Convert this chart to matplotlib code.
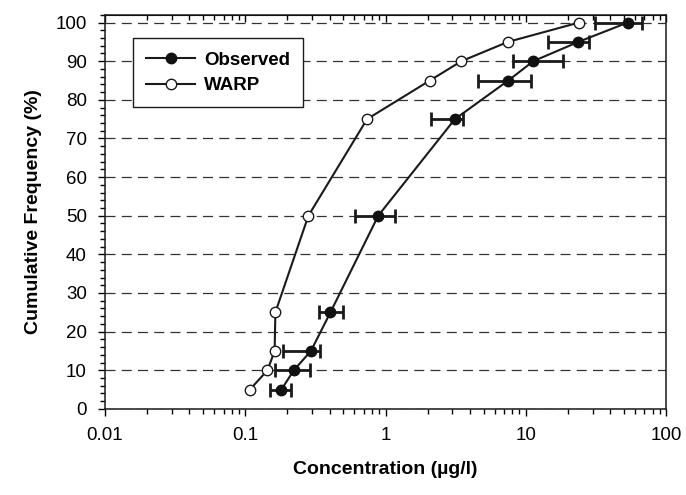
import matplotlib.pyplot as plt
from matplotlib.ticker import MultipleLocator, LogLocator, NullFormatter, FixedLocator, FixedFormatter

plt.rcParams['font.family'] = ['Liberation Sans', 'DejaVu Sans']

# cumulative frequency levels (%)
freq = [5, 10, 15, 25, 50, 75, 85, 90, 95, 100]

# observed concentrations (ug/l) with lower / upper error bar ends
obs = [0.181, 0.222, 0.294, 0.405, 0.887, 3.12, 7.5, 11.3, 23.7, 53.2]
obs_lo = [0.150, 0.164, 0.185, 0.336, 0.607, 2.12, 4.57, 8.07, 14.5, 31.2]
obs_hi = [0.212, 0.289, 0.339, 0.495, 1.17, 3.57, 10.8, 18.3, 28.4, 67.0]

# WARP model concentrations (ug/l)
warp = [0.108, 0.144, 0.162, 0.164, 0.282, 0.738, 2.07, 3.47, 7.46, 23.9]

xticks = [0.01, 0.1, 1, 10, 100]
xlabels = ['0.01', '0.1', '1', '10', '100']

fig = plt.figure(figsize=(6.86, 4.95), dpi=100)
ax = fig.add_axes([0.153, 0.174, 0.818, 0.796])

err = [[o - l for o, l in zip(obs, obs_lo)], [h - o for o, h in zip(obs, obs_hi)]]

ax.errorbar(obs, freq, xerr=err, fmt='none', ecolor='#1a1a1a', elinewidth=2,
            capsize=5, capthick=2, zorder=3)
ax.plot(obs, freq, '-o', color='#1a1a1a', lw=1.5, ms=7.5, mfc='#111111',
        mec='#111111', label='Observed', zorder=4)
ax.plot(warp, freq, '-o', color='#1a1a1a', lw=1.5, ms=7.5, mfc='white',
        mec='#1a1a1a', mew=1.0, label='WARP', zorder=4)

ax.set_xscale('log')
ax.set_xlim(0.01, 100)
ax.set_ylim(0, 102)

ax.xaxis.set_major_locator(FixedLocator(xticks))
ax.xaxis.set_major_formatter(FixedFormatter(xlabels))
ax.xaxis.set_minor_locator(LogLocator(base=10, subs=range(2, 10)))
ax.xaxis.set_minor_formatter(NullFormatter())
ax.yaxis.set_major_locator(MultipleLocator(10))
ax.yaxis.set_minor_locator(MultipleLocator(2))

ax.grid(axis='y', which='major', linestyle=(0, (8, 5)), color='#333333', lw=0.9)
ax.set_axisbelow(True)

ax.tick_params(axis='both', which='major', labelsize=13.5, direction='out',
               length=5, width=1, pad=8)
ax.tick_params(axis='both', which='minor', direction='out', length=3.5, width=1)

top = ax.secondary_xaxis('top')
top.xaxis.set_major_locator(FixedLocator(xticks))
top.xaxis.set_minor_locator(LogLocator(base=10, subs=range(2, 10)))
top.xaxis.set_major_formatter(NullFormatter())
top.xaxis.set_minor_formatter(NullFormatter())
top.tick_params(which='major', direction='in', length=5, width=1)
top.tick_params(which='minor', direction='in', length=3.5, width=1)

for s in ax.spines.values():
    s.set_linewidth(1.1)
    s.set_color('#1a1a1a')

ax.set_ylabel('Cumulative Frequency (%)', fontsize=14, fontweight='bold', labelpad=10)
ax.set_xlabel('Concentration (\u00b5g/l)', fontsize=14, fontweight='bold', labelpad=12)

leg = ax.legend(loc='upper left', bbox_to_anchor=(0.05, 0.94),
                prop={'weight': 'bold', 'size': 13.5}, frameon=True, fancybox=False,
                edgecolor='#1a1a1a', framealpha=1, handlelength=2.6, borderpad=0.7,
                labelspacing=0.45, handletextpad=0.5, borderaxespad=0)
leg.get_frame().set_linewidth(1.0)

fig.savefig('out.png', dpi=100, facecolor='white')
